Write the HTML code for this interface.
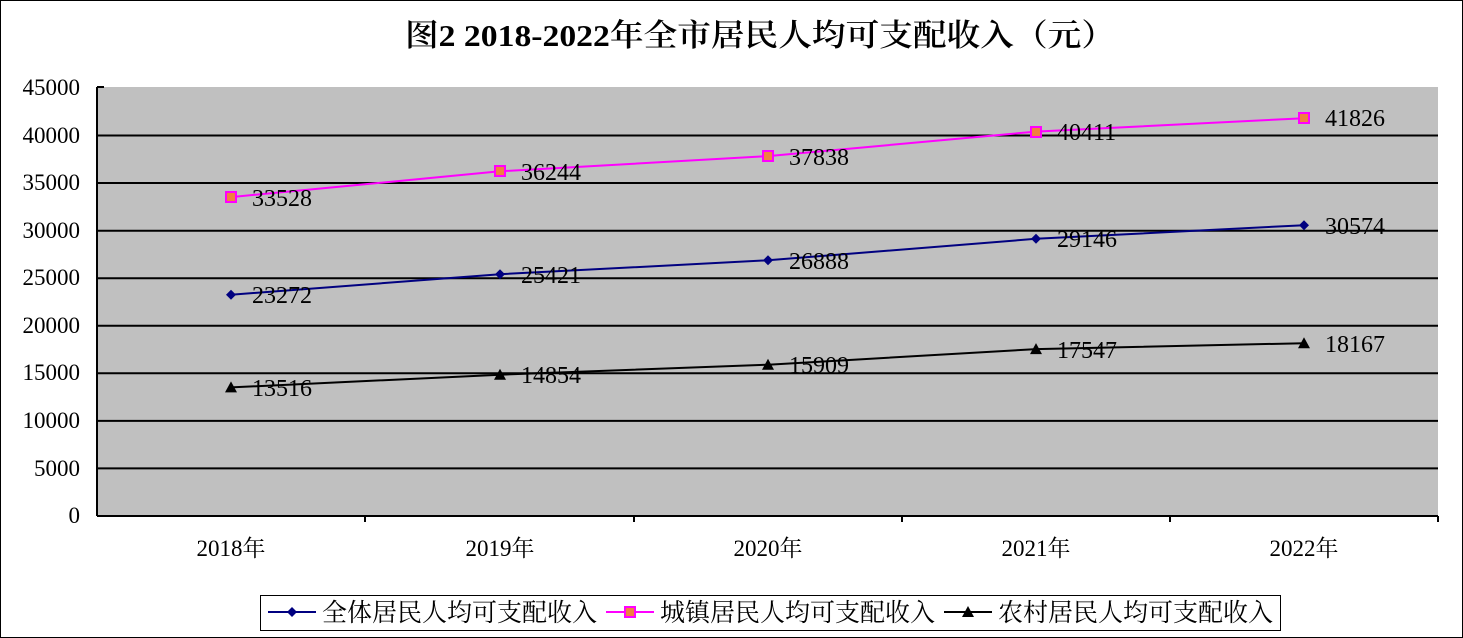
<!DOCTYPE html>
<html><head><meta charset="utf-8"><style>body{margin:0;background:#fff}</style></head><body>
<svg width="1463" height="638" xmlns="http://www.w3.org/2000/svg" style="display:block">
<rect x="0.5" y="0.5" width="1462" height="637" fill="#fff" stroke="#000" stroke-width="1"/>
<text x="405" y="46" textLength="710" lengthAdjust="spacingAndGlyphs" font-family="'Liberation Serif','Noto Serif CJK SC',serif" font-size="31" font-weight="600">图2 2018-2022年全市居民人均可支配收入（元）</text>
<rect x="97" y="87" width="1341" height="429" fill="#c0c0c0"/>
<g stroke="#000" stroke-width="2">
<line x1="97" y1="135.5" x2="1438" y2="135.5"/><line x1="97" y1="183" x2="1438" y2="183"/>
<line x1="97" y1="230.7" x2="1438" y2="230.7"/><line x1="97" y1="278.2" x2="1438" y2="278.2"/>
<line x1="97" y1="325.8" x2="1438" y2="325.8"/><line x1="97" y1="373.3" x2="1438" y2="373.3"/>
<line x1="97" y1="420.9" x2="1438" y2="420.9"/><line x1="97" y1="468.4" x2="1438" y2="468.4"/>
<line x1="97" y1="516" x2="1438" y2="516"/><line x1="97" y1="87" x2="97" y2="516"/>
<line x1="97" y1="87" x2="104" y2="87"/>
<line x1="365" y1="516" x2="365" y2="522"/><line x1="634" y1="516" x2="634" y2="522"/>
<line x1="902" y1="516" x2="902" y2="522"/><line x1="1170" y1="516" x2="1170" y2="522"/><line x1="1438" y1="516" x2="1438" y2="522"/>
</g>
<g font-family="'Liberation Serif',serif" font-size="23" text-anchor="end">
<text x="80" y="95">45000</text><text x="80" y="143">40000</text><text x="80" y="190">35000</text>
<text x="80" y="238">30000</text><text x="80" y="285">25000</text><text x="80" y="333">20000</text>
<text x="80" y="380">15000</text><text x="80" y="428">10000</text><text x="80" y="476">5000</text><text x="80" y="523">0</text>
</g>
<g font-family="'Liberation Serif','Noto Serif CJK SC',serif" font-size="23" text-anchor="middle">
<text x="231" y="556">2018年</text><text x="500" y="556">2019年</text><text x="768" y="556">2020年</text><text x="1036" y="556">2021年</text><text x="1304" y="556">2022年</text>
</g>
<polyline points="231,197.1 500,171.3 768,156.1 1036,131.6 1304,118.2" fill="none" stroke="#ff00ff" stroke-width="2"/>
<polyline points="231,294.7 500,274.2 768,260.3 1036,238.8 1304,225.2" fill="none" stroke="#000080" stroke-width="2"/>
<polyline points="231,387.4 500,374.7 768,364.7 1036,349.1 1304,343.2" fill="none" stroke="#000" stroke-width="2"/>
<g fill="#f08040" stroke="#ff00ff" stroke-width="2">
<rect x="226" y="192" width="10" height="10"/><rect x="495" y="166" width="10" height="10"/><rect x="763" y="151" width="10" height="10"/><rect x="1031" y="127" width="10" height="10"/><rect x="1299" y="113" width="10" height="10"/>
</g>
<g fill="#000080">
<path d="M231,289.7 l5,5 -5,5 -5,-5z"/><path d="M500,269.2 l5,5 -5,5 -5,-5z"/><path d="M768,255.3 l5,5 -5,5 -5,-5z"/><path d="M1036,233.8 l5,5 -5,5 -5,-5z"/><path d="M1304,220.2 l5,5 -5,5 -5,-5z"/>
</g>
<g fill="#000">
<path d="M231,381.4 l6,11 h-12z"/><path d="M500,368.7 l6,11 h-12z"/><path d="M768,358.7 l6,11 h-12z"/><path d="M1036,343.1 l6,11 h-12z"/><path d="M1304,337.2 l6,11 h-12z"/>
</g>
<g font-family="'Liberation Serif',serif" font-size="24">
<text x="252" y="206">33528</text><text x="521" y="180">36244</text><text x="789" y="165">37838</text><text x="1057" y="140">40411</text><text x="1325" y="126">41826</text>
<text x="252" y="303">23272</text><text x="521" y="283">25421</text><text x="789" y="269">26888</text><text x="1057" y="247">29146</text><text x="1325" y="234">30574</text>
<text x="252" y="396">13516</text><text x="521" y="383">14854</text><text x="789" y="373">15909</text><text x="1057" y="358">17547</text><text x="1325" y="352">18167</text>
</g>
<rect x="260.5" y="595.5" width="1020" height="35" fill="#fff" stroke="#000" stroke-width="1"/>
<line x1="268" y1="612" x2="316" y2="612" stroke="#000080" stroke-width="2"/><path d="M292,607 l5,5 -5,5 -5,-5z" fill="#000080"/>
<line x1="606" y1="612" x2="654" y2="612" stroke="#ff00ff" stroke-width="2"/><rect x="625" y="607" width="10" height="10" fill="#f08040" stroke="#ff00ff" stroke-width="2"/>
<line x1="944" y1="612" x2="992" y2="612" stroke="#000" stroke-width="2"/><path d="M968,606 l6,11 h-12z"/>
<g font-family="'Liberation Serif','Noto Serif CJK SC',serif" font-size="25">
<text x="322" y="621">全体居民人均可支配收入</text><text x="660" y="621">城镇居民人均可支配收入</text><text x="998" y="621">农村居民人均可支配收入</text>
</g>
</svg>
</body></html>
